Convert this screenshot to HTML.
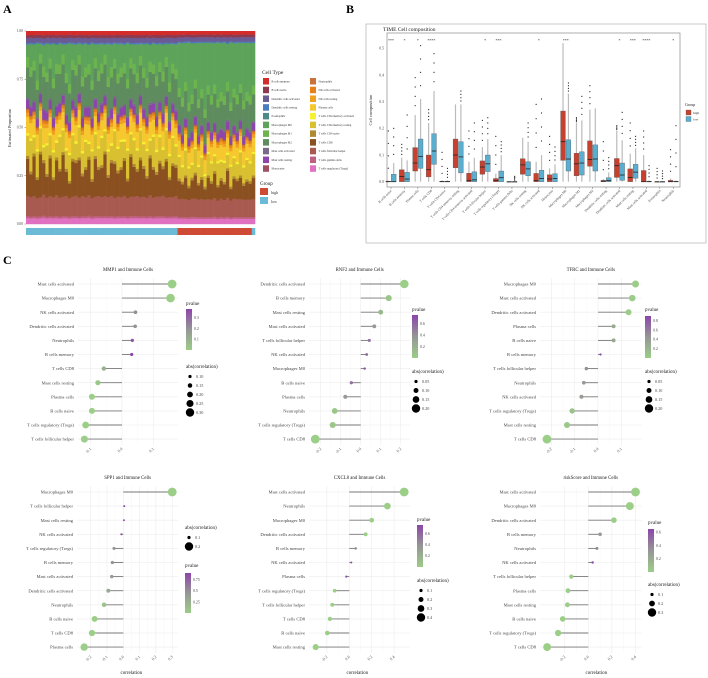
<!DOCTYPE html>
<html><head><meta charset="utf-8">
<style>
html,body{margin:0;padding:0;background:#fff;}
svg{display:block;font-family:"Liberation Serif",serif;}
</style></head>
<body>
<svg id="fig" width="708" height="678" viewBox="0 0 708 678">
<text x="3" y="13" font-size="12" font-weight="bold">A</text>
<text x="346" y="13" font-size="12" font-weight="bold">B</text>
<text x="3" y="264" font-size="12" font-weight="bold">C</text>
<g id="pa"></g>
<g id="pb"></g>
<g id="pc"></g>
</svg>
<script>
// ---------- Panel A data ----------
const cellTypes=["B cells memory","B cells naive","Dendritic cells activated","Dendritic cells resting","Eosinophils","Macrophages M0","Macrophages M1","Macrophages M2","Mast cells activated","Mast cells resting","Monocytes","Neutrophils","NK cells activated","NK cells resting","Plasma cells","T cells CD4 memory activated","T cells CD4 memory resting","T cells CD4 naive","T cells CD8","T cells follicular helper","T cells gamma delta","T cells regulatory (Tregs)"];
const cellColors=["#d42b2b","#8c3a50","#6b5b95","#4a7cc0","#4d8a8a","#5ea35a","#6db34e","#5f8c5f","#7a6a8a","#8e44ad","#a05060","#c8733a","#e8801a","#f0a020","#f5c830","#f5f030","#d8c030","#b08a30","#8a5020","#a85a50","#c06080","#e070c0"];
const cellMeans=[0.02,0.015,0.025,0.005,0.003,0.12,0.05,0.15,0.01,0.04,0.005,0.006,0.012,0.02,0.08,0.012,0.12,0.015,0.14,0.1,0.01,0.03];
const sampleGroup=["low","low","low","low","low","low","low","low","low","low","low","low","low","low","low","low","low","low","low","low","low","low","low","low","low","low","low","low","low","low","low","low","low","low","low","low","low","low","low","low","low","low","low","low","low","low","low","high","high","high","high","high","high","high","high","high","high","high","high","high","high","high","high","high","high","high","high","high","high","high"];
const sampleM0=[0.06,0.12,0.08,0.2,0.05,0.1,0.15,0.07,0.18,0.09,0.11,0.05,0.14,0.22,0.08,0.1,0.06,0.16,0.12,0.09,0.2,0.07,0.13,0.1,0.05,0.17,0.11,0.08,0.15,0.12,0.09,0.19,0.07,0.1,0.14,0.06,0.12,0.18,0.08,0.11,0.16,0.09,0.13,0.07,0.2,0.1,0.12,0.25,0.3,0.22,0.35,0.28,0.2,0.32,0.26,0.38,0.24,0.3,0.22,0.34,0.27,0.31,0.2,0.36,0.25,0.29,0.23,0.33,0.28,0.3,0.24];
const sampleCD8=[0.18,0.12,0.2,0.1,0.22,0.15,0.11,0.19,0.09,0.17,0.14,0.21,0.12,0.08,0.18,0.16,0.2,0.1,0.14,0.17,0.09,0.19,0.13,0.15,0.21,0.1,0.16,0.18,0.12,0.14,0.17,0.09,0.2,0.15,0.12,0.19,0.14,0.1,0.18,0.15,0.11,0.17,0.13,0.19,0.09,0.16,0.14,0.1,0.08,0.12,0.07,0.1,0.13,0.08,0.11,0.06,0.12,0.09,0.13,0.08,0.1,0.09,0.14,0.07,0.11,0.1,0.12,0.08,0.1,0.09,0.12];
const sampleCD4R=[0.1,0.16,0.08,0.14,0.12,0.06,0.15,0.1,0.13,0.07,0.17,0.11,0.09,0.14,0.12,0.08,0.16,0.1,0.13,0.06,0.15,0.11,0.09,0.14,0.1,0.12,0.07,0.16,0.11,0.13,0.08,0.15,0.1,0.12,0.09,0.14,0.11,0.13,0.07,0.16,0.1,0.12,0.08,0.15,0.11,0.13,0.09,0.12,0.08,0.14,0.1,0.07,0.13,0.09,0.11,0.06,0.12,0.1,0.08,0.13,0.09,0.11,0.07,0.12,0.1,0.08,0.13,0.09,0.11,0.1,0.12];
const yTicksA=["0.00","0.25","0.50","0.75","1.00"];

// ---------- Panel B data ----------
const boxCats=["B cells naive","B cells memory","Plasma cells","T cells CD8","T cells CD4 naive","T cells CD4 memory resting","T cells CD4 memory activated","T cells follicular helper","T cells regulatory (Tregs)","T cells gamma delta","NK cells resting","NK cells activated","Monocytes","Macrophages M0","Macrophages M1","Macrophages M2","Dendritic cells resting","Dendritic cells activated","Mast cells resting","Mast cells activated","Eosinophils","Neutrophils"];
const highQ1=[0,0,0.04,0.018,0,0.052,0,0.028,0,0,0.028,0,0,0.08,0.022,0.058,0,0.016,0,0,0,0];
const highMed=[0,0.02,0.07,0.045,0,0.1,0.005,0.055,0.004,0,0.063,0.004,0.01,0.15,0.067,0.083,0.002,0.06,0.016,0,0,0];
const highQ3=[0.002,0.045,0.128,0.1,0.002,0.16,0.032,0.078,0.012,0,0.086,0.031,0.026,0.265,0.107,0.153,0.005,0.087,0.048,0.042,0,0.005];
const highMax=[0.004,0.09,0.25,0.22,0.005,0.29,0.075,0.13,0.03,0.001,0.165,0.075,0.05,0.52,0.22,0.27,0.01,0.19,0.105,0.1,0.002,0.012];
const lowQ1=[0,0,0.05,0.065,0,0.033,0,0.038,0,0,0.022,0,0,0.04,0.025,0.04,0,0.005,0.013,0,0,0];
const lowMed=[0,0.01,0.095,0.115,0,0.093,0.007,0.067,0.015,0,0.048,0.012,0.012,0.085,0.07,0.085,0.004,0.025,0.036,0,0,0];
const lowQ3=[0.028,0.035,0.16,0.18,0.002,0.15,0.037,0.1,0.04,0,0.075,0.043,0.03,0.157,0.112,0.138,0.015,0.07,0.065,0.002,0,0.002];
const lowMax=[0.07,0.08,0.31,0.34,0.005,0.29,0.09,0.16,0.1,0.001,0.15,0.1,0.065,0.33,0.23,0.275,0.035,0.155,0.125,0.005,0.002,0.005];
const highOut=[0.19,0.14,0.39,0.27,0.11,0,0.19,0.23,0.17,0,0,0.29,0.17,0,0.24,0.36,0.15,0.21,0.22,0.19,0.05,0.12];
const lowOut=[0.2,0.25,0.51,0.48,0.05,0.34,0.22,0.24,0.15,0.02,0.22,0.31,0.13,0.37,0.32,0,0.09,0.26,0.17,0.06,0.04,0.21];
const sigStars=["***","*","*","****","","","","*","***","","","*","","***","","","","*","***","****","","*"];
const yTicksB=["0.0","0.1","0.2","0.3","0.4","0.5"];

// ---------- Panel C data ----------
const lpTitles=["MMP1 and Immune Cells","RNF2 and Immune Cells","TFRC and Immune Cells","SPP1 and Immune Cells","CXCL8 and Immune Cells","riskScore and Immune Cells"];
const lpLabels=[
["Mast cells activated","Macrophages M0","NK cells activated","Dendritic cells activated","Neutrophils","B cells memory","T cells CD8","Mast cells resting","Plasma cells","B cells naive","T cells regulatory (Tregs)","T cells follicular helper"],
["Dendritic cells activated","B cells memory","Mast cells resting","Mast cells activated","T cells follicular helper","NK cells activated","Macrophages M0","B cells naive","Plasma cells","Neutrophils","T cells regulatory (Tregs)","T cells CD8"],
["Macrophages M0","Mast cells activated","Dendritic cells activated","Plasma cells","B cells naive","B cells memory","T cells follicular helper","Neutrophils","NK cells activated","T cells regulatory (Tregs)","Mast cells resting","T cells CD8"],
["Macrophages M0","T cells follicular helper","Mast cells resting","NK cells activated","T cells regulatory (Tregs)","B cells memory","Mast cells activated","Dendritic cells activated","Neutrophils","B cells naive","T cells CD8","Plasma cells"],
["Mast cells activated","Neutrophils","Macrophages M0","Dendritic cells activated","B cells memory","NK cells activated","Plasma cells","T cells regulatory (Tregs)","T cells follicular helper","T cells CD8","B cells naive","Mast cells resting"],
["Mast cells activated","Macrophages M0","Dendritic cells activated","B cells memory","Neutrophils","NK cells activated","T cells follicular helper","Plasma cells","Mast cells resting","B cells naive","T cells regulatory (Tregs)","T cells CD8"]];
const lpCorr=[
[0.16,0.155,0.043,0.042,0.033,0.031,-0.058,-0.077,-0.096,-0.096,-0.116,-0.12],
[0.218,0.14,0.10,0.068,0.043,0.03,0.02,-0.047,-0.077,-0.13,-0.14,-0.227],
[0.161,0.147,0.131,0.067,0.067,0.011,-0.05,-0.061,-0.071,-0.111,-0.133,-0.219],
[0.30,0.006,0.004,-0.012,-0.057,-0.067,-0.071,-0.092,-0.118,-0.176,-0.192,-0.24],
[0.49,0.34,0.20,0.146,0.057,0.018,-0.027,-0.131,-0.152,-0.173,-0.197,-0.30],
[0.40,0.352,0.217,0.10,0.073,0.037,-0.144,-0.172,-0.177,-0.217,-0.256,-0.349]];
const lpPval=[
[0,0,0.2,0.2,0.35,0.38,0.1,0.02,0,0,0,0],
[0,0.05,0.15,0.35,0.55,0.6,0.7,0.55,0.35,0.05,0.05,0],
[0.02,0.02,0.02,0.3,0.3,0.9,0.5,0.4,0.4,0.1,0.05,0],
[0,0.9,0.9,0.85,0.45,0.45,0.4,0.3,0.1,0,0,0],
[0,0,0,0,0.4,0.7,0.7,0,0,0,0,0],
[0,0,0,0.3,0.35,0.6,0,0,0,0,0,0]];
const lpXTicks=[[-0.1,0,0.1],[-0.2,-0.1,0,0.1,0.2],[-0.2,-0.1,0,0.1],[-0.2,-0.1,0,0.1,0.2,0.3],[-0.2,0,0.2,0.4],[-0.2,0,0.2,0.4]];
const lpPTicks=[[0.1,0.2,0.3],[0.2,0.4,0.6],[0.2,0.4,0.6,0.8],[0.25,0.5,0.75],[0.2,0.4,0.6],[0.2,0.4,0.6]];
const lpPMax=[0.38,0.75,0.9,0.9,0.75,0.65];
const lpSizeTicks=[[0.10,0.15,0.20,0.25,0.30],[0.05,0.10,0.15,0.20],[0.05,0.10,0.15,0.20],[0.1,0.2],[0.1,0.2,0.3,0.4],[0.1,0.2,0.3]];

const NS="http://www.w3.org/2000/svg";
function mk(parent,tag,attrs,txt){const e=document.createElementNS(NS,tag);for(const k in attrs)e.setAttribute(k,attrs[k]);if(txt!==undefined)e.textContent=txt;parent.appendChild(e);return e;}

// ================= Panel A =================
(function(){
const g=document.getElementById('pa');
const L=26,R=255,T=31,B=224;
const yA=v=>B-v*(B-T);
const n=sampleM0.length,bw=(R-L)/n;
for(let i=0;i<n;i++){
  const w=cellMeans.slice();w[5]=sampleM0[i];w[18]=sampleCD8[i];w[16]=sampleCD4R[i];
  const s=w.reduce((a,b)=>a+b,0);
  let acc=0;
  for(let k=w.length-1;k>=0;k--){
    const v=w[k]/s;
    const r=mk(g,'rect',{x:L+i*bw,y:yA(acc+v),width:bw+0.3,height:v*(B-T)+0.2,fill:cellColors[k]});
    
    
    acc+=v;
  }
  const gb=mk(g,'rect',{x:L+i*bw,y:228,width:bw+0.3,height:7,fill:sampleGroup[i]==='high'?'#cf4a35':'#6bbbd6'});
  
  
}
yTicksA.forEach((t,i)=>{const v=i*0.25;
  const tx=mk(g,'text',{x:L-3,y:yA(v)+1.2,'font-size':3.6,'text-anchor':'end',fill:'#444'},t);
  
  mk(g,'line',{x1:L-1.5,x2:L,y1:yA(v),y2:yA(v),stroke:'#444','stroke-width':0.4});});
mk(g,'text',{x:11,y:128,'font-size':4.5,'text-anchor':'middle',transform:'rotate(-90 11 128)',fill:'#222',},'Estimated Proportion');
mk(g,'text',{x:262,y:74,'font-size':5.5,fill:'#222',},'Cell Type');
cellTypes.forEach((c,i)=>{const col=i<11?0:1,row=i%11;const x=263+col*47,y=78+row*8.73;
  const r=mk(g,'rect',{x:x,y:y,width:6,height:6.5,fill:cellColors[i]});
  
  const t=mk(g,'text',{x:x+8.5,y:y+4.3,'font-size':2.9,fill:'#333'},c);
  });
mk(g,'text',{x:260,y:185,'font-size':5,fill:'#222',},'Group');
mk(g,'rect',{x:260,y:188,width:8,height:7,fill:'#cf4a35',});
mk(g,'text',{x:271,y:194,'font-size':4,fill:'#333',},'high');
mk(g,'rect',{x:260,y:197,width:8,height:7,fill:'#6bbbd6',});
mk(g,'text',{x:271,y:203,'font-size':4,fill:'#333',},'low');
})();

// ================= Panel B =================
(function(){
const g=document.getElementById('pb');
mk(g,'rect',{x:366,y:24,width:340,height:219,fill:'none',stroke:'#bbb','stroke-width':0.8,});
mk(g,'rect',{x:387,y:33,width:293,height:154,fill:'#fff',stroke:'#999','stroke-width':0.8,});
mk(g,'text',{x:383,y:31,'font-size':5.5,fill:'#222',},'TIME Cell composition');
const yB=v=>181.7-v*266.7;
const xB=i=>391+i*13.44;
yTicksB.forEach((t,i)=>{const v=i*0.1;
  const tx=mk(g,'text',{x:384,y:yB(v)+1.3,'font-size':3.8,'text-anchor':'end',fill:'#444'},t);
  });
mk(g,'text',{x:372,y:110,'font-size':4.5,'text-anchor':'middle',transform:'rotate(-90 372 110)',fill:'#222',},'Cell composition');
const drawBox=(cx,q1,md,q3,mx,out,fill,nm)=>{
  const wl=mk(g,'line',{x1:cx,x2:cx,y1:yB(q3),y2:yB(mx),stroke:'#bbb','stroke-width':1.2});
  
  mk(g,'line',{x1:cx,x2:cx,y1:yB(q1),y2:yB(0),stroke:'#bbb','stroke-width':1.2});
  const r=mk(g,'rect',{x:cx-2.4,y:yB(q3),width:4.8,height:Math.max(0.6,yB(q1)-yB(q3)),fill:fill,stroke:'#555','stroke-width':0.35});
  
  mk(g,'line',{x1:cx-2.4,x2:cx+2.4,y1:yB(md),y2:yB(md),stroke:'#222','stroke-width':0.8});
  if(out>0){for(let k=0;k<4;k++){const ov=mx+(out-mx)*(k+1)/4;
    const c=mk(g,'circle',{cx:cx,cy:yB(ov),r:0.6,fill:'#222'});
    }}
};
boxCats.forEach((c,i)=>{const cx=xB(i);
  drawBox(cx-2.7,highQ1[i],highMed[i],highQ3[i],highMax[i],highOut[i],'#c8412f','high');
  drawBox(cx+2.7,lowQ1[i],lowMed[i],lowQ3[i],lowMax[i],lowOut[i],'#5aaed0','low');
  mk(g,'line',{x1:cx,x2:cx,y1:187,y2:189,stroke:'#555','stroke-width':0.4});
  const t=mk(g,'text',{x:cx+1,y:191,'font-size':3.4,'text-anchor':'end',fill:'#444',transform:`rotate(-45 ${cx+1} 191)`},c);
  
  if(sigStars[i]){const s=mk(g,'text',{x:cx,y:42,'font-size':4,'text-anchor':'middle',fill:'#333'},sigStars[i]);
    }
});
mk(g,'text',{x:685,y:106,'font-size':4,fill:'#222',},'Group');
mk(g,'rect',{x:686,y:110,width:5,height:5,fill:'#c8412f',stroke:'#555','stroke-width':0.3,});
mk(g,'text',{x:693,y:114,'font-size':3.5,fill:'#333',},'high');
mk(g,'rect',{x:686,y:116.5,width:5,height:5,fill:'#5aaed0',stroke:'#555','stroke-width':0.3,});
mk(g,'text',{x:693,y:120.5,'font-size':3.5,fill:'#333',},'low');
})();

// ================= Panel C =================
(function(){
const root=document.getElementById('pc');
const layout=[
 {zero:122,sc:313,top:284,lab:74,lx:186,pt:305,bar:[309,350],at:368},
 {zero:360.7,sc:200,top:284,lab:305,lx:412,pt:311,bar:[315,358],at:373},
 {zero:598,sc:233,top:284,lab:536,lx:645,pt:311,bar:[316,358],at:373},
 {zero:123.3,sc:163,top:492,lab:73,lx:185,pt:567,bar:[573,613],at:529},
 {zero:349.3,sc:112,top:492,lab:305,lx:417,pt:521,bar:[525,567],at:582},
 {zero:588.3,sc:118,top:492,lab:536,lx:648,pt:524,bar:[529,572],at:586}];
const green=[155,206,135],grey=[150,150,150],purple=[140,70,170];
const pcol=(p,pm)=>{let t=Math.min(1,p/pm);let a,b,u;if(t<0.5){a=green;b=grey;u=t/0.5;}else{a=grey;b=purple;u=(t-0.5)/0.5;}
  return 'rgb('+a.map((v,k)=>Math.round(v+(b[k]-v)*u)).join(',')+')';};
const step=14.1;
layout.forEach((P,pi)=>{
  const g=mk(root,'g',{});
  
  
  const xs=v=>P.zero+v*P.sc;
  const labs=lpLabels[pi],vals=lpCorr[pi],ps=lpPval[pi];
  const maxAbs=Math.max(...vals.map(Math.abs));
  const rad=v=>0.9+Math.abs(v)/maxAbs*3.5;
  const left=P.lab+4,right=xs(Math.max(...vals))+6;
  const bottom=P.top+11*step;
  const tk=lpXTicks[pi];
  for(let k=0;k<tk.length;k++){
    mk(g,'line',{x1:xs(tk[k]),x2:xs(tk[k]),y1:P.top-6,y2:bottom+6,stroke:'#ececec','stroke-width':0.6});
    if(k<tk.length-1){const m=(tk[k]+tk[k+1])/2;mk(g,'line',{x1:xs(m),x2:xs(m),y1:P.top-6,y2:bottom+6,stroke:'#f5f5f5','stroke-width':0.4});}
    const tx=mk(g,'text',{x:xs(tk[k])+1,y:bottom+10,'font-size':4.2,'text-anchor':'end',fill:'#555',transform:`rotate(-45 ${xs(tk[k])+1} ${bottom+10})`},tk[k].toFixed(1));
    
  }
  labs.forEach((l,i)=>{const y=P.top+i*step;
    mk(g,'line',{x1:left,x2:right,y1:y,y2:y,stroke:'#ececec','stroke-width':0.6});
    const t=mk(g,'text',{x:P.lab,y:y+1.6,'font-size':4.6,'text-anchor':'end',fill:'#444'},l);
    });
  vals.forEach((v,i)=>{const y=P.top+i*step;
    const s=mk(g,'line',{x1:xs(0),x2:xs(v),y1:y,y2:y,stroke:'#777','stroke-width':0.9});
    
    const c=mk(g,'circle',{cx:xs(v),cy:y,r:rad(v),fill:pcol(ps[i],lpPMax[pi])});
    });
  const tt=mk(g,'text',{x:(left+right)/2,y:P.top-13,'font-size':4.8,'text-anchor':'middle',fill:'#222'},lpTitles[pi]);
  
  if(pi>=3){const ct=mk(g,'text',{x:xs(0)+8,y:674,'font-size':5,'text-anchor':'middle',fill:'#222'},'correlation');
    }
  const pt=mk(g,'text',{x:P.lx,y:P.pt,'font-size':5,fill:'#222'},'pvalue');
  
  const gid='grad'+pi;
  const defs=mk(g,'defs',{});const lg=mk(defs,'linearGradient',{id:gid,x1:0,y1:1,x2:0,y2:0});
  mk(lg,'stop',{offset:'0','stop-color':'rgb(155,206,135)'});mk(lg,'stop',{offset:'0.5','stop-color':'rgb(150,150,150)'});mk(lg,'stop',{offset:'1','stop-color':'rgb(140,70,170)'});
  const cb=mk(g,'rect',{x:P.lx,y:P.bar[0],width:6,height:P.bar[1]-P.bar[0],fill:`url(#${gid})`});
  
  lpPTicks[pi].forEach(t=>{const y=P.bar[1]-t/lpPMax[pi]*(P.bar[1]-P.bar[0]);
    const tx=mk(g,'text',{x:P.lx+8,y:y+1.4,'font-size':3.9,fill:'#444'},String(t));
    });
  const at=mk(g,'text',{x:P.lx,y:P.at,'font-size':5,fill:'#222'},'abs(correlation)');
  
  const st=lpSizeTicks[pi],nS=st.length;
  st.forEach((s,k)=>{const y=P.at+8.5+k*9;
    const r=1.6+(nS>1?k/(nS-1):1)*2.6;
    const c=mk(g,'circle',{cx:P.lx+4,cy:y,r:r,fill:'#000'});
    
    const tx=mk(g,'text',{x:P.lx+10,y:y+1.5,'font-size':4.2,fill:'#444'},s.toFixed(pi===3||pi>=4?1:2));
    });
});
})();
</script>
</body></html>
